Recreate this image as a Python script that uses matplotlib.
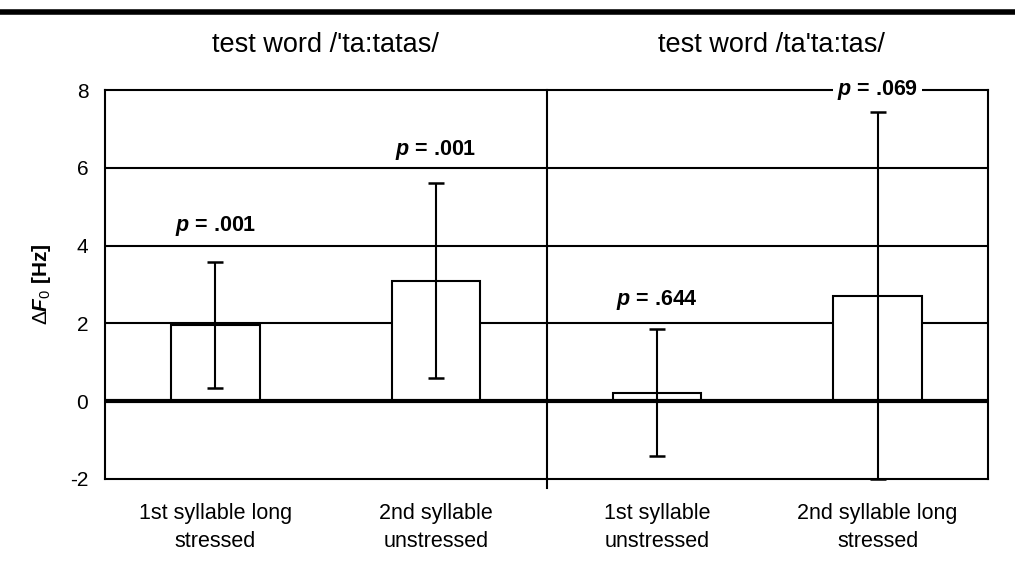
import matplotlib
matplotlib.use("Agg")
import matplotlib.pyplot as plt
from matplotlib.lines import Line2D
import numpy as np

plt.rcParams['font.family'] = ['Liberation Sans', 'DejaVu Sans']
plt.rcParams['mathtext.fontset'] = 'custom'
plt.rcParams['mathtext.rm'] = 'Liberation Sans'
plt.rcParams['mathtext.it'] = 'Liberation Sans:italic'
plt.rcParams['mathtext.bf'] = 'Liberation Sans:bold:italic'

categories = ["1st syllable long\nstressed", "2nd syllable\nunstressed",
              "1st syllable\nunstressed", "2nd syllable long\nstressed"]
means = [1.95, 3.10, 0.20, 2.70]
err_upper = [3.58, 5.60, 1.85, 7.43]
err_lower = [0.33, 0.60, -1.41, -2.00]
p_labels = [".001", ".001", ".644", ".069"]
p_label_y = [4.5, 6.45, 2.6, 8.0]
group_titles = ["test word /'ta:tatas/", "test word /ta'ta:tas/"]
yticks = [-2, 0, 2, 4, 6, 8]

fig = plt.figure(figsize=(10.15, 5.68), dpi=100)
ax = fig.add_axes([105/1015, 1-479/568, 883/1015, 389/568])

x = np.arange(len(categories))
ax.set_xlim(-0.5, len(categories) - 0.5)
ax.set_ylim(-2, 8)

for g in [2, 4, 6]:
    ax.axhline(g, color='black', lw=1.5, zorder=1)

ax.bar(x, means, width=0.4, color='white', edgecolor='black', linewidth=1.5, zorder=2)
means_a = np.array(means)
yerr = np.vstack([means_a - np.array(err_lower), np.array(err_upper) - means_a])
ax.errorbar(x, means, yerr=yerr, fmt='none', ecolor='black', elinewidth=1.5,
            capsize=5.8, capthick=1.8, zorder=4, clip_on=False)
ax.axhline(0, color='black', lw=3, zorder=3)

# divider between the two test words
ax.plot([1.5, 1.5], [8, -2.22], color='black', lw=1.5, clip_on=False, zorder=3)

for xi, lab, yy in zip(x, p_labels, p_label_y):
    t = ax.text(xi, yy, r'$\mathbf{p}$ = ' + lab, ha='center', va='center',
                fontsize=15.5, fontweight='bold', zorder=6)
    if yy >= 8:
        t.set_bbox(dict(facecolor='white', edgecolor='none', pad=3))

for i, title in enumerate(group_titles):
    ax.text(0.5 + 2 * i + (0.02 if i else 0), 1.115, title, transform=ax.get_xaxis_transform(),
            ha='center', va='center', fontsize=19.5)

ax.set_yticks(yticks)
ax.set_yticklabels([str(v) for v in yticks], fontsize=15)
ax.set_xticks(x)
ax.set_xticklabels(categories, fontsize=15.5, linespacing=1.45)
ax.tick_params(axis='both', length=0)
ax.tick_params(axis='y', pad=12)
ax.tick_params(axis='x', pad=17)
for s in ax.spines.values():
    s.set_linewidth(1.5)

ax.set_ylabel(r'$\Delta$$\mathbf{F}_{\mathit{0}}$ [Hz]', fontsize=15, fontweight='bold', labelpad=12)

fig.add_artist(Line2D([0, 1], [1 - 12/568, 1 - 12/568], color='black', lw=4))

fig.savefig('out.png', dpi=100)
